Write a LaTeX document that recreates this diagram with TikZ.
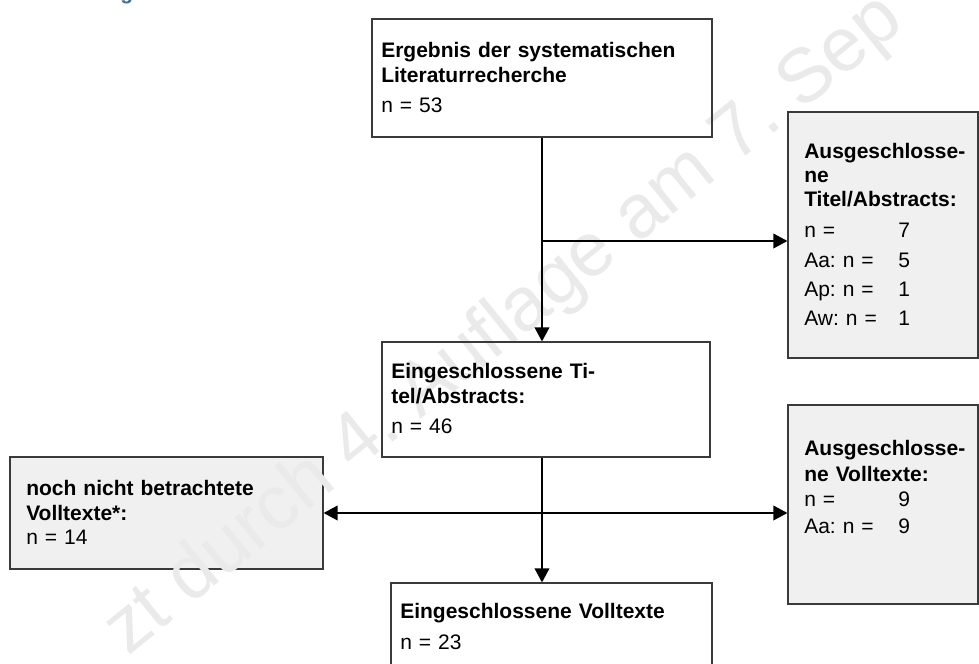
\documentclass[tikz,border=0pt]{standalone}
\usepackage{fontspec}
\setmainfont{Liberation Sans}
\usetikzlibrary{arrows.meta,fit}

\definecolor{panelgray}{HTML}{F0F0F0}
\definecolor{framegray}{HTML}{3A3A3A}
\definecolor{headblue}{HTML}{3F6E99}
\definecolor{stampgray}{HTML}{EAEAEA}

\begin{document}
\frenchspacing
\begin{tikzpicture}[x=0.75pt,y=-0.75pt,
  whitebox/.style={draw=framegray, line width=0.9pt, inner sep=0pt},
  greybox/.style={draw=framegray, line width=0.9pt, fill=panelgray, inner sep=0pt},
  txt/.style={anchor=base west, inner sep=0pt, text width=330pt, align=left,
              font=\fontsize{15.75}{18}\selectfont},
  flow/.style={line width=1.1pt, -{Triangle[length=10.5pt,width=11pt]}},
  twoway/.style={line width=1.1pt, {Triangle[length=10.5pt,width=11pt]}-{Triangle[length=10.5pt,width=11pt]}},
]
\useasboundingbox (0,0) rectangle (979,664);
\fill[white] (0,0) rectangle (979,664);

% filled side panels
\node[greybox, fit={(788,112) (978,358)}] (exA) {};
\node[greybox, fit={(788,405) (978,604)}] (exB) {};
\node[greybox, fit={(10,457) (323,569)}] (open) {};

% diagonal stamp
\begin{scope}
  \clip (0,0) rectangle (979,664);
  \node[text=stampgray, rotate=39, font=\fontsize{57}{60}\selectfont, inner sep=0pt]
    (stamp) at (505,326) {zt durch 4. Auflage am 7. Sep};
\end{scope}

% partly visible heading line above the chart
\node[anchor=base west, inner sep=0pt, text=headblue,
      font=\bfseries\fontsize{15.75}{18}\selectfont] (head) at (120,-1) {g};

% main boxes
\node[whitebox, fit={(372,19) (712,137)}] (b1) {};
\node[whitebox, fit={(382,342) (710,457)}] (b2) {};
\node[whitebox, fit={(391,583) (712,666)}] (b3) {};

% box texts (one line per node, baselines in pixels)
\node[txt] (t1a) at (381,57) {\textbf{Ergebnis der systematischen}};
\node[txt] (t1b) at (381,82) {\textbf{Literaturrecherche}};
\node[txt] (t1c) at (381,112) {n = 53};

\node[txt] (t2a) at (391,378) {\textbf{Eingeschlossene Ti-}};
\node[txt] (t2b) at (391,403) {\textbf{tel/Abstracts:}};
\node[txt] (t2c) at (391,433) {n = 46};

\node[txt] (t3a) at (400,618) {\textbf{Eingeschlossene Volltexte}};
\node[txt] (t3b) at (400,649) {n = 23};

\node[txt] (tLa) at (26,495) {\textbf{noch nicht betrachtete}};
\node[txt] (tLb) at (26,520) {\textbf{Volltexte*:}};
\node[txt] (tLc) at (26,544) {n = 14};

\node[txt] (tAa) at (804,158) {\textbf{Ausgeschlosse-}};
\node[txt] (tAb) at (804,182) {\textbf{ne}};
\node[txt] (tAc) at (804,206) {\textbf{Titel/Abstracts:}};
\node[txt] (tA1) at (804,237) {n =};
\node[txt] (tA1v) at (898,237) {7};
\node[txt] (tA2) at (804,267) {Aa: n =};
\node[txt] (tA2v) at (898,267) {5};
\node[txt] (tA3) at (804,296) {Ap: n =};
\node[txt] (tA3v) at (898,296) {1};
\node[txt] (tA4) at (804,325) {Aw: n =};
\node[txt] (tA4v) at (898,325) {1};

\node[txt] (tBa) at (804,455) {\textbf{Ausgeschlosse-}};
\node[txt] (tBb) at (804,481) {\textbf{ne Volltexte:}};
\node[txt] (tB1) at (804,506) {n =};
\node[txt] (tB1v) at (898,506) {9};
\node[txt] (tB2) at (804,533) {Aa: n =};
\node[txt] (tB2v) at (898,533) {9};

% connectors
\coordinate (j1) at (b1.south |- 0,241);
\coordinate (j2) at (b1.south |- 0,513);
\draw[flow] (b1.south) -- (b1.south |- b2.north);
\draw[flow] (j1) -- (j1 -| exA.west);
\draw[flow] (b1.south |- b2.south) -- (b1.south |- b3.north);
\draw[twoway] (j2 -| open.east) -- (j2 -| exB.west);
\end{tikzpicture}
\end{document}
